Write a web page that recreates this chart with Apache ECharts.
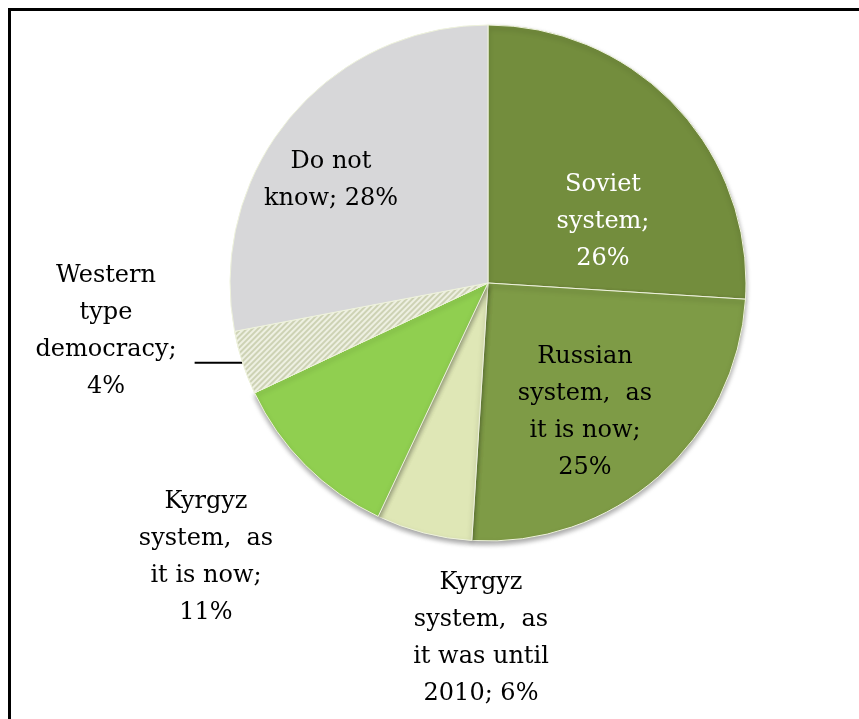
<!DOCTYPE html>
<html>
<head>
<meta charset="utf-8">
<script src="https://cdn.jsdelivr.net/npm/echarts@6/dist/echarts.min.js"></script>
<style>html,body{margin:0;padding:0;background:#fff;}#c{width:859px;height:719px;}</style>
</head>
<body>
<div id="c"></div>
<script>
// Data
const categories = [
  'Soviet\nsystem;',
  'Russian\nsystem,  as\nit is now;',
  'Kyrgyz\nsystem,  as\nit was until\n2010;',
  'Kyrgyz\nsystem,  as\nit is now;',
  'Western\ntype\ndemocracy;',
  'Do not\nknow;'
];
const values = [26, 25, 6, 11, 4, 28];
const sliceColors = ['#738d3d', '#7e9b46', '#dfe7b6', '#90cf50', '#d3d7bd', '#d7d7d9'];
const labelColors = ['#ffffff', '#000000', '#000000', '#000000', '#000000', '#000000'];
// label block centers (layout, not data)
const labelPos = [[603, 222], [585, 412], [481, 638], [206, 557], [106, 331], [331, 180]];

function fmt(p) {
  const name = p.name;
  const v = p.value + '%';
  if (p.dataIndex === 5 || p.dataIndex === 2) return name + ' ' + v;
  return name + '\n' + v;
}

const chart = echarts.init(document.getElementById('c'), null, {renderer: 'canvas'});
const data = values.map((v, i) => {
  const st = { color: sliceColors[i] };
  if (i <= 3) {
    st.shadowColor = 'rgba(0,0,0,0.35)';
    st.shadowBlur = 5;
    st.shadowOffsetY = 3;
  }
  if (i === 4) {
    st.decal = {
      symbol: 'rect', dashArrayX: [1, 0], dashArrayY: [2, 2], rotation: -Math.PI / 4,
      color: '#eef0e2', backgroundColor: '#cdd2b4', symbolSize: 1
    };
  }
  return {
    name: categories[i],
    value: v,
    itemStyle: st,
    label: { color: labelColors[i], position: (i === 0 || i === 1 || i === 5) ? 'inside' : 'outside' },
    labelLine: { show: i === 4 }
  };
});

chart.setOption({
  animation: false,
  graphic: [{
    type: 'rect',
    shape: { x: 9.5, y: 9.5, width: 900, height: 800 },
    style: { fill: 'none', stroke: '#000', lineWidth: 3 },
    z: 100
  }],
  series: [{
    type: 'pie',
    center: [488, 283],
    radius: 258,
    startAngle: 90,
    clockwise: true,
    avoidLabelOverlap: false,
    data: data,
    itemStyle: {
      borderColor: '#eef2dc',
      borderWidth: 1
    },
    label: {
      show: true,
      formatter: fmt,
      fontFamily: 'DejaVu Serif',
      fontSize: 24,
      lineHeight: 37,
      align: 'center'
    },
    labelLine: {
      length: 0,
      length2: 48,
      lineStyle: { color: '#000', width: 2 }
    },
    labelLayout: function (params) {
      const p = labelPos[params.dataIndex];
      return {
        x: p[0], y: p[1], align: 'center', verticalAlign: 'middle',
        labelLinePoints: params.labelLinePoints
      };
    },
    emphasis: { disabled: true }
  }]
});
</script>
</body>
</html>
